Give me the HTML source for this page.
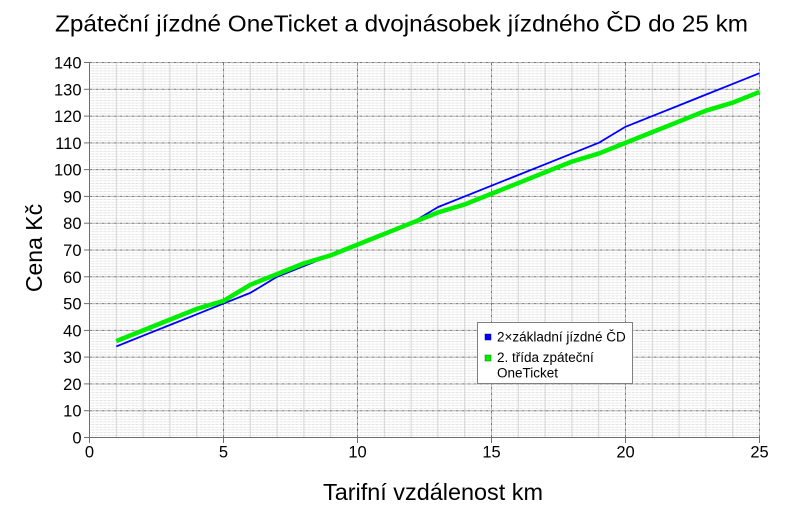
<!DOCTYPE html>
<html><head><meta charset="utf-8"><style>
html,body{margin:0;padding:0;background:#fff;}
svg{display:block;font-family:"Liberation Sans",Arial,sans-serif;}
</style></head><body>
<svg width="800" height="512" viewBox="0 0 800 512" xmlns="http://www.w3.org/2000/svg">
<defs>
<pattern id="mh" x="0" y="437.5" width="4" height="2.6786" patternUnits="userSpaceOnUse">
<rect x="0" y="0" width="2" height="0.8" fill="#dedede"/>
<rect x="2" y="0" width="2" height="0.8" fill="#eeeeee"/>
</pattern>
</defs>
<rect width="800" height="512" fill="#fff"/>
<text x="55" y="31.5" font-size="23.5" textLength="693" lengthAdjust="spacingAndGlyphs" fill="#000">Zpáteční jízdné OneTicket a dvojnásobek jízdného ČD do 25 km</text>
<rect x="89.5" y="62.5" width="670" height="375" fill="url(#mh)"/>
<g stroke="#d4d4d4" stroke-width="1">
<line x1="116.3" y1="62.5" x2="116.3" y2="437.5"/><line x1="143.1" y1="62.5" x2="143.1" y2="437.5"/><line x1="169.9" y1="62.5" x2="169.9" y2="437.5"/><line x1="196.7" y1="62.5" x2="196.7" y2="437.5"/>
<line x1="250.3" y1="62.5" x2="250.3" y2="437.5"/><line x1="277.1" y1="62.5" x2="277.1" y2="437.5"/><line x1="303.9" y1="62.5" x2="303.9" y2="437.5"/><line x1="330.7" y1="62.5" x2="330.7" y2="437.5"/>
<line x1="384.3" y1="62.5" x2="384.3" y2="437.5"/><line x1="411.1" y1="62.5" x2="411.1" y2="437.5"/><line x1="437.9" y1="62.5" x2="437.9" y2="437.5"/><line x1="464.7" y1="62.5" x2="464.7" y2="437.5"/>
<line x1="518.3" y1="62.5" x2="518.3" y2="437.5"/><line x1="545.1" y1="62.5" x2="545.1" y2="437.5"/><line x1="571.9" y1="62.5" x2="571.9" y2="437.5"/><line x1="598.7" y1="62.5" x2="598.7" y2="437.5"/>
<line x1="652.3" y1="62.5" x2="652.3" y2="437.5"/><line x1="679.1" y1="62.5" x2="679.1" y2="437.5"/><line x1="705.9" y1="62.5" x2="705.9" y2="437.5"/><line x1="732.7" y1="62.5" x2="732.7" y2="437.5"/>
</g>
<g stroke="#7a7a7a" stroke-width="1" stroke-dasharray="3,1,1,1">
<line x1="89.5" y1="62.5" x2="759.5" y2="62.5"/><line x1="89.5" y1="89.3" x2="759.5" y2="89.3"/><line x1="89.5" y1="116.1" x2="759.5" y2="116.1"/><line x1="89.5" y1="142.9" x2="759.5" y2="142.9"/>
<line x1="89.5" y1="169.6" x2="759.5" y2="169.6"/><line x1="89.5" y1="196.4" x2="759.5" y2="196.4"/><line x1="89.5" y1="223.2" x2="759.5" y2="223.2"/><line x1="89.5" y1="250" x2="759.5" y2="250"/>
<line x1="89.5" y1="276.8" x2="759.5" y2="276.8"/><line x1="89.5" y1="303.6" x2="759.5" y2="303.6"/><line x1="89.5" y1="330.4" x2="759.5" y2="330.4"/><line x1="89.5" y1="357.1" x2="759.5" y2="357.1"/>
<line x1="89.5" y1="383.9" x2="759.5" y2="383.9"/><line x1="89.5" y1="410.7" x2="759.5" y2="410.7"/>
<line x1="223.5" y1="62.5" x2="223.5" y2="437.5"/><line x1="357.5" y1="62.5" x2="357.5" y2="437.5"/><line x1="491.5" y1="62.5" x2="491.5" y2="437.5"/><line x1="625.5" y1="62.5" x2="625.5" y2="437.5"/><line x1="759.5" y1="62.5" x2="759.5" y2="437.5"/>
</g>
<g stroke="#6e6e6e" stroke-width="1">
<line x1="89.5" y1="62" x2="89.5" y2="437.5"/>
<line x1="89.5" y1="437.5" x2="760" y2="437.5"/>
<line x1="84" y1="62.5" x2="89.5" y2="62.5"/><line x1="84" y1="89.3" x2="89.5" y2="89.3"/><line x1="84" y1="116.1" x2="89.5" y2="116.1"/><line x1="84" y1="142.9" x2="89.5" y2="142.9"/>
<line x1="84" y1="169.6" x2="89.5" y2="169.6"/><line x1="84" y1="196.4" x2="89.5" y2="196.4"/><line x1="84" y1="223.2" x2="89.5" y2="223.2"/><line x1="84" y1="250" x2="89.5" y2="250"/>
<line x1="84" y1="276.8" x2="89.5" y2="276.8"/><line x1="84" y1="303.6" x2="89.5" y2="303.6"/><line x1="84" y1="330.4" x2="89.5" y2="330.4"/><line x1="84" y1="357.1" x2="89.5" y2="357.1"/>
<line x1="84" y1="383.9" x2="89.5" y2="383.9"/><line x1="84" y1="410.7" x2="89.5" y2="410.7"/><line x1="84" y1="437.5" x2="89.5" y2="437.5"/>
<line x1="89.5" y1="437.5" x2="89.5" y2="443"/><line x1="223.5" y1="437.5" x2="223.5" y2="443"/><line x1="357.5" y1="437.5" x2="357.5" y2="443"/><line x1="491.5" y1="437.5" x2="491.5" y2="443"/><line x1="625.5" y1="437.5" x2="625.5" y2="443"/><line x1="759.5" y1="437.5" x2="759.5" y2="443"/>
</g>
<g font-size="16.5" fill="#000" text-anchor="end">
<text x="81.5" y="68.5">140</text><text x="81.5" y="95.3">130</text><text x="81.5" y="122.1">120</text><text x="81.5" y="148.9">110</text>
<text x="81.5" y="175.6">100</text><text x="81.5" y="202.4">90</text><text x="81.5" y="229.2">80</text><text x="81.5" y="256">70</text>
<text x="81.5" y="282.8">60</text><text x="81.5" y="309.6">50</text><text x="81.5" y="336.4">40</text><text x="81.5" y="363.1">30</text>
<text x="81.5" y="389.9">20</text><text x="81.5" y="416.7">10</text><text x="81.5" y="443.5">0</text>
</g>
<g font-size="16.5" fill="#000" text-anchor="middle">
<text x="89.5" y="457.5">0</text><text x="223.5" y="457.5">5</text><text x="357.5" y="457.5">10</text><text x="491.5" y="457.5">15</text><text x="625.5" y="457.5">20</text><text x="759.5" y="457.5">25</text>
</g>
<polyline fill="none" stroke="#0000ff" stroke-width="1.8" stroke-linejoin="round" points="116.3,346.43 143.1,335.71 169.9,325.00 196.7,314.28 223.5,303.57 250.3,292.86 277.1,276.78 303.9,266.07 330.7,255.36 357.5,244.64 384.3,233.93 411.1,223.21 437.9,207.14 464.7,196.43 491.5,185.71 518.3,175.00 545.1,164.28 571.9,153.57 598.7,142.85 625.5,126.78 652.3,116.07 679.1,105.36 705.9,94.64 732.7,83.93 759.5,73.21"/>
<polyline fill="none" stroke="#00ee00" stroke-width="4.5" stroke-linejoin="round" points="116.3,341.07 143.1,330.36 169.9,319.64 196.7,308.93 223.5,300.89 250.3,284.82 277.1,274.11 303.9,263.39 330.7,255.36 357.5,244.64 384.3,233.93 411.1,223.21 437.9,212.50 464.7,204.46 491.5,193.75 518.3,183.04 545.1,172.32 571.9,161.60 598.7,153.57 625.5,142.85 652.3,132.14 679.1,121.43 705.9,110.71 732.7,102.68 759.5,91.96"/>
<rect x="477.5" y="322.5" width="155" height="61" fill="#fff" stroke="#808080" stroke-width="1"/>
<rect x="485" y="334" width="6" height="6" fill="#0000ff" stroke="#000080" stroke-width="0.5"/>
<rect x="485" y="355" width="6" height="6" fill="#00ee00" stroke="#008000" stroke-width="0.5"/>
<g font-size="13.5" fill="#000">
<text x="497" y="341.5">2×základní jízdné ČD</text>
<text x="497" y="362">2. třída zpáteční</text>
<text x="497" y="377.5">OneTicket</text>
</g>
<text x="323" y="500" font-size="23" textLength="220" lengthAdjust="spacingAndGlyphs" fill="#000">Tarifní vzdálenost km</text>
<text transform="translate(42,248) rotate(-90)" x="0" y="0" font-size="23" text-anchor="middle" fill="#000">Cena Kč</text>
</svg>
</body></html>
